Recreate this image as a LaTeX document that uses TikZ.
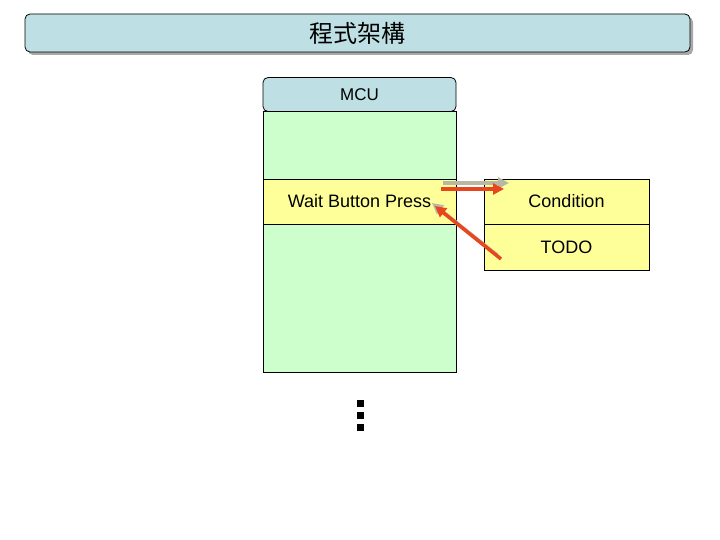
\documentclass[tikz,border=0pt]{standalone}
\usepackage{fontspec}
\setmainfont{Liberation Sans}
\newfontfamily\cjk{Noto Sans CJK TC}
\usetikzlibrary{arrows.meta,shadows}
\definecolor{titleblue}{HTML}{BEE0E4}
\definecolor{bodygreen}{HTML}{CCFFCC}
\definecolor{stepyellow}{HTML}{FFFF99}
\definecolor{arrowred}{HTML}{E8461E}
\definecolor{arrowgray}{HTML}{B8B8A4}
\definecolor{shadowgray}{HTML}{A8A8A8}
\tikzset{
  titlebox/.style={draw=black, line width=0.8pt, fill=titleblue, rounded corners=5pt,
    drop shadow={shadow xshift=3pt, shadow yshift=-3pt, fill=shadowgray, opacity=1},
    inner sep=0pt, font=\fontsize{24}{28}\selectfont\cjk},
  headbox/.style={draw=black, line width=0.8pt, fill=titleblue, rounded corners=5pt,
    inner sep=0pt, font=\fontsize{17}{20}\selectfont},
  greenbox/.style={draw=black, line width=0.8pt, fill=bodygreen, inner sep=0pt},
  yellowbox/.style={draw=black, line width=0.8pt, fill=stepyellow, inner sep=0pt,
    font=\fontsize{18}{20}\selectfont},
  dotsq/.style={fill=black, inner sep=0pt, minimum size=7pt},
  redarrow/.style={draw=arrowred, line width=3.5pt, -{Triangle[length=11pt,width=11pt]}},
  grayarrow/.style={draw=arrowgray, line width=3.5pt, -{Triangle[length=11pt,width=11pt]}}
}
\begin{document}
\begin{tikzpicture}[x=1pt,y=-1pt]
\useasboundingbox (0,0) rectangle (720,540);
\node[titlebox, minimum width=665pt, minimum height=38pt] (title) at (357.5,33) {程式架構};
\node[greenbox, minimum width=193pt, minimum height=261pt] (body) at (359.5,241.5) {};
\node[headbox, minimum width=193pt, minimum height=34pt] (mcu) at (359.5,94.5) {MCU};
\node[yellowbox, minimum width=193pt, minimum height=45pt] (wait) at (359.5,201.5) {Wait Button Press};
\node[yellowbox, minimum width=165pt, minimum height=45pt] (cond) at (566.5,201.5) {Condition};
\node[yellowbox, minimum width=165pt, minimum height=46pt] (todo) at (566.5,247) {TODO};
\node[dotsq] (d1) at (360.5,403.5) {};
\node[dotsq] (d2) at (360.5,415.5) {};
\node[dotsq] (d3) at (360.5,427.5) {};
\coordinate (gs) at (443,183);
\coordinate (ge) at (509,183);
\coordinate (rs) at (441,189);
\coordinate (re) at (504,189);
\coordinate (gds) at (497,255);
\coordinate (gde) at (432,203);
\coordinate (rds) at (501,259);
\coordinate (rde) at (435,206);
\draw[grayarrow] (gs) -- (ge);
\draw[redarrow] (rs) -- (re);
\draw[grayarrow] (gds) -- (gde);
\draw[redarrow] (rds) -- (rde);
\end{tikzpicture}
\end{document}
